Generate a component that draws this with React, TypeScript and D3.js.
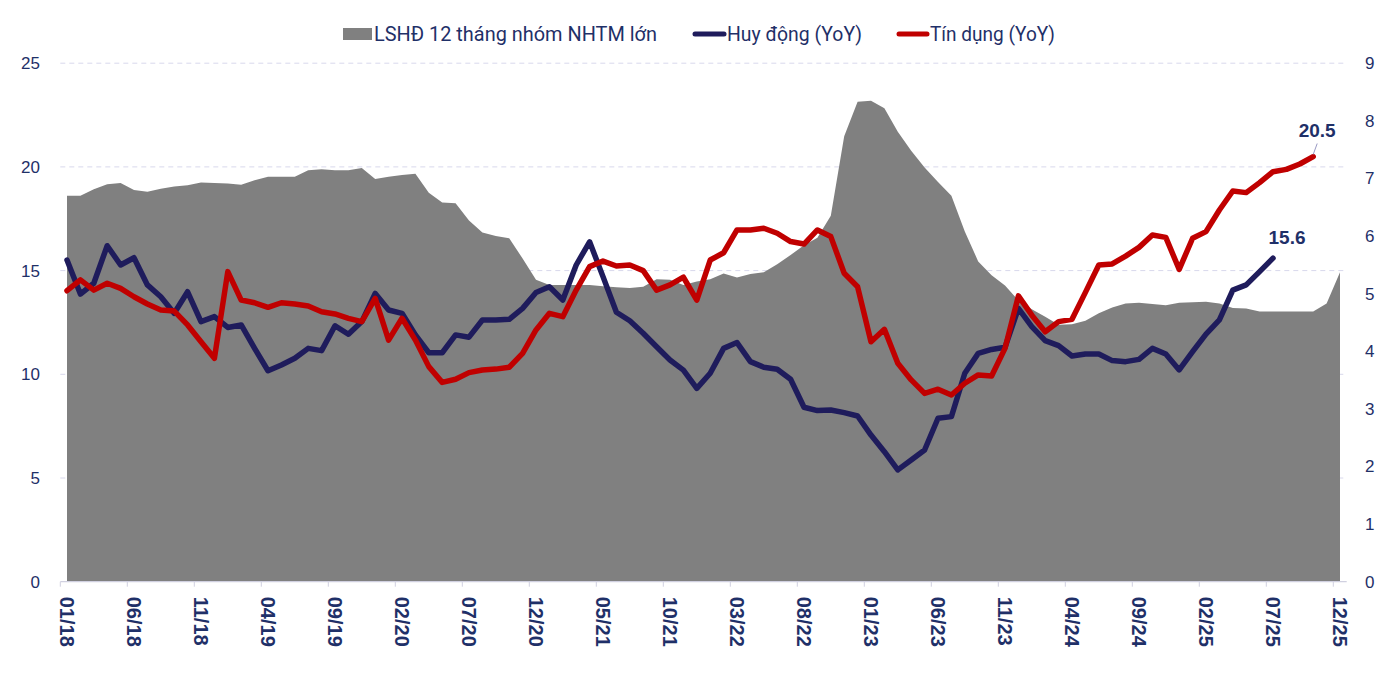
import * as d3 from "d3";

const W = 1390;
const H = 673;

// monthly categories 01/18 .. 12/25
const months: string[] = [];
for (let y = 18; y <= 25; y++) {
  for (let m = 1; m <= 12; m++) {
    months.push(`${String(m).padStart(2, "0")}/${y}`);
  }
}

// LSHĐ 12 tháng nhóm NHTM lớn (right axis, %)
const depositRate = [
  6.7, 6.7, 6.81, 6.9, 6.92, 6.8, 6.77, 6.82, 6.86, 6.88, 6.93, 6.92,
  6.91, 6.89, 6.97, 7.03, 7.03, 7.03, 7.14, 7.16, 7.14, 7.14, 7.18, 6.99,
  7.03, 7.06, 7.08, 6.75, 6.58, 6.57, 6.27, 6.06, 6.0, 5.96, 5.61, 5.24,
  5.15, 5.15, 5.15, 5.15, 5.13, 5.11, 5.1, 5.12, 5.25, 5.24, 5.15, 5.21,
  5.25, 5.35, 5.28, 5.34, 5.37, 5.51, 5.67, 5.84, 5.97, 6.35, 7.73, 8.33,
  8.35, 8.22, 7.81, 7.48, 7.19, 6.94, 6.7, 6.08, 5.56, 5.32, 5.14, 4.88,
  4.73, 4.6, 4.46, 4.47, 4.53, 4.66, 4.76, 4.83, 4.84, 4.82, 4.8, 4.84,
  4.85, 4.86, 4.83, 4.75, 4.74, 4.69, 4.69, 4.69, 4.69, 4.69, 4.83, 5.37,
];

// Huy động (YoY), left axis, ends 07/25
const depositGrowth = [
  15.51, 13.87, 14.39, 16.2, 15.27, 15.62, 14.31, 13.74, 12.94, 13.98, 12.54, 12.78,
  12.26, 12.38, 11.25, 10.17, 10.45, 10.77, 11.25, 11.14, 12.34, 11.93, 12.54, 13.9,
  13.1, 12.94, 11.9, 11.04, 11.04, 11.9, 11.79, 12.62, 12.62, 12.65, 13.18, 13.94,
  14.22, 13.58, 15.27, 16.39, 14.71, 12.99, 12.58, 11.98, 11.33, 10.69, 10.2, 9.32,
  10.05, 11.25, 11.53, 10.61, 10.34, 10.24, 9.76, 8.41, 8.25, 8.28, 8.15, 7.99,
  7.07, 6.27, 5.39, 5.87, 6.35, 7.88, 7.96, 10.05, 11.01, 11.2, 11.3, 13.18,
  12.3, 11.62, 11.38, 10.88, 10.98, 10.98, 10.66, 10.61, 10.72, 11.25, 10.98, 10.21,
  11.09, 11.94, 12.62, 14.06, 14.31, 14.95, 15.6,
];

// Tín dụng (YoY), left axis, ends 10/25
const creditGrowth = [
  14.03, 14.55, 14.06, 14.39, 14.14, 13.74, 13.39, 13.1, 13.05, 12.38, 11.57, 10.77,
  14.95, 13.58, 13.45, 13.23, 13.45, 13.39, 13.29, 13.02, 12.91, 12.7, 12.54, 13.66,
  11.65, 12.7, 11.65, 10.37, 9.61, 9.76, 10.08, 10.21, 10.25, 10.34, 11.01, 12.14,
  12.94, 12.78, 14.06, 15.19, 15.46, 15.22, 15.27, 15.0, 14.06, 14.31, 14.68, 13.58,
  15.51, 15.86, 16.96, 16.96, 17.04, 16.8, 16.4, 16.28, 16.96, 16.64, 14.87, 14.22,
  11.57, 12.17, 10.53, 9.73, 9.08, 9.28, 9.0, 9.57, 9.97, 9.92, 11.25, 13.78,
  12.85, 12.05, 12.54, 12.65, 13.95, 15.27, 15.32, 15.7, 16.12, 16.72, 16.6, 15.06,
  16.56, 16.88, 17.92, 18.84, 18.76, 19.24, 19.77, 19.88, 20.14, 20.5,
];

const leftTicks = [0, 5, 10, 15, 20, 25];
const rightTicks = [0, 1, 2, 3, 4, 5, 6, 7, 8, 9];

const NAVY = "#1f1c5c";
const RED = "#c00000";
const GRAY = "#808080";
const TEXT = "#1f3068";

export default function App() {
  const x = d3.scaleBand<string>().domain(months).range([60.3, 1346.7]).padding(0);
  const bw = x.bandwidth();
  const cx = (i: number) => (x(months[i]) ?? 0) + bw / 2;
  const yL = d3.scaleLinear().domain([0, 25]).range([581.7, 63.2]);
  const yR = d3.scaleLinear().domain([0, 9]).range([581.7, 63.2]);

  const area = d3
    .area<number>()
    .x((_d, i) => cx(i))
    .y0(yR(0))
    .y1((d) => yR(d));

  const line = d3
    .line<number>()
    .x((_d, i) => cx(i))
    .y((d) => yL(d));

  const lastDep = depositGrowth.length - 1;
  const lastCred = creditGrowth.length - 1;
  const depX = cx(lastDep);
  const depY = yL(depositGrowth[lastDep]);
  const credX = cx(lastCred);
  const credY = yL(creditGrowth[lastCred]);

  const labelIdx = months.map((_m, i) => i).filter((i) => i % 5 === 0);

  return (
    <svg
      width={W}
      height={H}
      style={{ position: "absolute", left: 0, top: 0, background: "#fff" }}
    >
      {/* gridlines */}
      {leftTicks.slice(1).map((t) => (
        <line
          key={t}
          x1={60.3}
          x2={1346.7}
          y1={yL(t)}
          y2={yL(t)}
          stroke="#d8d8ec"
          strokeWidth={1}
          strokeDasharray="5,4"
        />
      ))}

      <path d={area(depositRate) ?? ""} fill={GRAY} />

      {/* x axis */}
      <line x1={60.3} x2={1346.7} y1={yL(0)} y2={yL(0)} stroke="#d0d0e0" strokeWidth={1.2} />
      {labelIdx.map((i) => (
        <line
          key={"t" + i}
          x1={x(months[i])}
          x2={x(months[i])}
          y1={yL(0)}
          y2={yL(0) + 5}
          stroke="#d0d0e0"
          strokeWidth={1}
        />
      ))}
      {labelIdx.map((i) => (
        <text
          key={"l" + i}
          transform={`translate(${cx(i)},${yL(0) + 15}) rotate(90)`}
          dy="0.35em"
          fontFamily="Liberation Sans, Arial, sans-serif"
          fontWeight="bold"
          fontSize={20}
          fill={TEXT}
        >
          {months[i]}
        </text>
      ))}

      {/* left axis labels */}
      {leftTicks.map((t) => (
        <text
          key={"yl" + t}
          x={40}
          y={yL(t)}
          dy="0.35em"
          textAnchor="end"
          fontFamily="Liberation Sans, Arial, sans-serif"
          fontSize={17}
          fill={TEXT}
        >
          {t}
        </text>
      ))}
      {/* right axis labels */}
      {rightTicks.map((t) => (
        <text
          key={"yr" + t}
          x={1365}
          y={yR(t)}
          dy="0.35em"
          fontFamily="Liberation Sans, Arial, sans-serif"
          fontSize={17}
          fill={TEXT}
        >
          {t}
        </text>
      ))}

      <path
        d={line(depositGrowth) ?? ""}
        fill="none"
        stroke={NAVY}
        strokeWidth={5.5}
        strokeLinejoin="round"
        strokeLinecap="round"
      />
      <path
        d={line(creditGrowth) ?? ""}
        fill="none"
        stroke={RED}
        strokeWidth={5.5}
        strokeLinejoin="round"
        strokeLinecap="round"
      />

      {/* end labels */}
      <line x1={credX} y1={credY - 2} x2={credX + 4} y2={credY - 13} stroke="#9a9ac4" strokeWidth={1} />
      <text
        x={credX + 4}
        y={credY - 20}
        textAnchor="middle"
        fontFamily="Liberation Sans, Arial, sans-serif"
        fontWeight="bold"
        fontSize={19}
        fill={TEXT}
      >
        {creditGrowth[lastCred].toFixed(1)}
      </text>
      <text
        x={depX + 14}
        y={depY - 14}
        textAnchor="middle"
        fontFamily="Liberation Sans, Arial, sans-serif"
        fontWeight="bold"
        fontSize={19}
        fill={TEXT}
      >
        {depositGrowth[lastDep].toFixed(1)}
      </text>

      {/* legend */}
      <g fontFamily="Roboto, sans-serif" fontSize={20} fill={TEXT}>
        <rect x={343} y={28} width={29} height={12} fill={GRAY} />
        <text x={374} y={34} dy="0.35em" textLength={283} lengthAdjust="spacingAndGlyphs">
          LSHĐ 12 tháng nhóm NHTM lớn
        </text>
        <line x1={695} x2={724} y1={34} y2={34} stroke={NAVY} strokeWidth={5} strokeLinecap="round" />
        <text x={727} y={34} dy="0.35em" textLength={135} lengthAdjust="spacingAndGlyphs">
          Huy động (YoY)
        </text>
        <line x1={899} x2={927} y1={34} y2={34} stroke={RED} strokeWidth={5} strokeLinecap="round" />
        <text x={930} y={34} dy="0.35em" textLength={125} lengthAdjust="spacingAndGlyphs">
          Tín dụng (YoY)
        </text>
      </g>
    </svg>
  );
}
